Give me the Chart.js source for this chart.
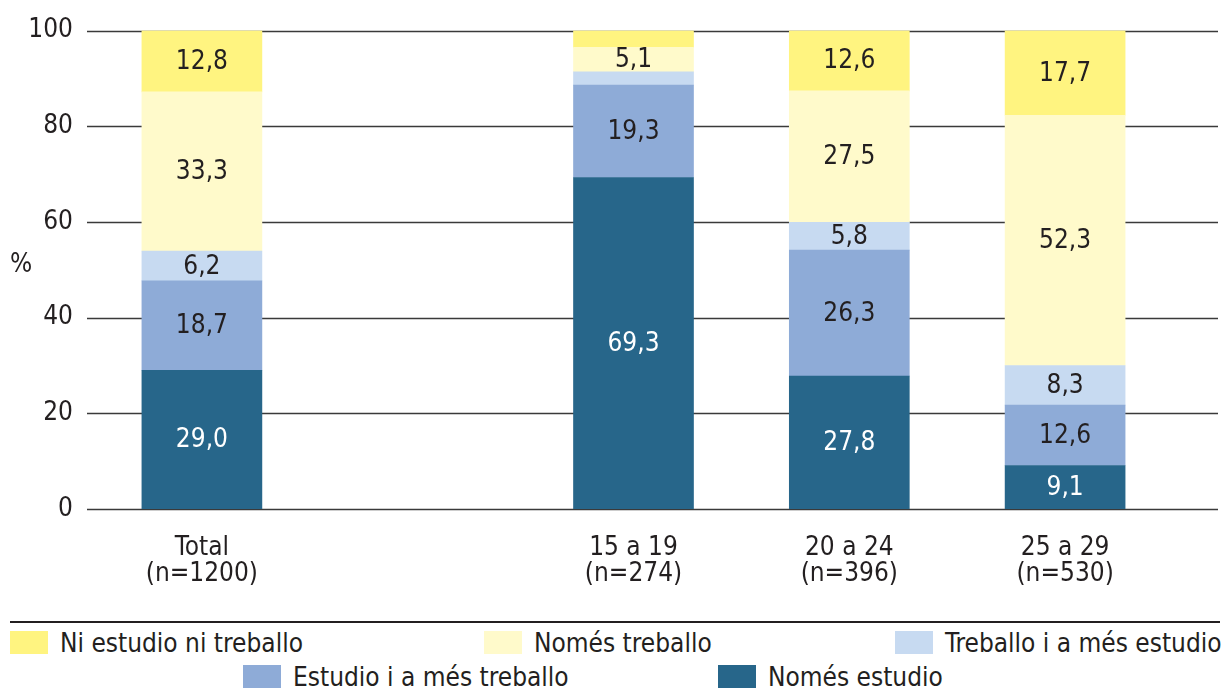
<!DOCTYPE html>
<html lang="ca">
<head>
    <meta charset="UTF-8">
    <title>Situació d'estudi i treball per edat</title>
    <style>
        body { margin: 0; background: #fff; }
        .wrap {
            position: relative;
            width: 1224px;
            height: 693px;
            overflow: hidden;
            font-family: 'Liberation Sans Narrow', 'DejaVu Sans Condensed', sans-serif;
            color: #231f20;
        }
        .wrap canvas { position: absolute; left: 0; top: -6px; }
        .rule {
            position: absolute;
            left: 10px;
            top: 621px;
            width: 1210px;
            height: 2px;
            background: #231f20;
        }
        .item {
            position: absolute;
            height: 23px;
            display: flex;
            align-items: center;
            font-size: 26px;
            white-space: nowrap;
        }
        .item span.sw {
            display: inline-block;
            width: 38px;
            height: 23px;
            margin-right: 12px;
        }
    </style>
</head>
<body>
    <div class="wrap" id="wrap">
        <canvas id="chart" width="1224" height="618"></canvas>
        <div class="rule"></div>
    </div>

    <script src="https://cdn.jsdelivr.net/npm/chart.js"></script>
    <script>
        // categories (the empty slot is the gap between Total and the age groups)
        const categories = [['Total', '(n=1200)'], '', ['15 a 19', '(n=274)'], ['20 a 24', '(n=396)'], ['25 a 29', '(n=530)']];

        // series, bottom to top
        const nomesEstudio    = [29.0, null, 69.3, 27.8, 9.1];
        const estudioIMes     = [18.7, null, 19.3, 26.3, 12.6];
        const treballoIMes    = [6.2, null, 2.8, 5.8, 8.3];
        const nomesTreballo   = [33.3, null, 5.1, 27.5, 52.3];
        const niEstudioNiTreb = [12.8, null, 3.5, 12.6, 17.7];

        const yTicks = [0, 20, 40, 60, 80, 100];

        const FONT = "'Liberation Sans Narrow', 'DejaVu Sans Condensed', sans-serif";
        const TEXT = '#231f20';

        const series = [
            { label: 'Només estudio', data: nomesEstudio, color: '#27668a', text: '#ffffff' },
            { label: 'Estudio i a més treballo', data: estudioIMes, color: '#8eabd7', text: TEXT },
            { label: 'Treballo i a més estudio', data: treballoIMes, color: '#c7daf1', text: TEXT },
            { label: 'Només treballo', data: nomesTreballo, color: '#fffacb', text: TEXT },
            { label: 'Ni estudio ni treballo', data: niEstudioNiTreb, color: '#fff480', text: TEXT }
        ];

        // grid lines run wider than the category area
        const gridPlugin = {
            id: 'wideGrid',
            beforeDatasetsDraw(chart) {
                const ctx = chart.ctx;
                const y = chart.scales.y;
                ctx.save();
                ctx.strokeStyle = '#3a3a3a';
                ctx.lineWidth = 1.5;
                yTicks.forEach(v => {
                    const py = Math.round(y.getPixelForValue(v)) + 0.5;
                    ctx.beginPath();
                    ctx.moveTo(87, py);
                    ctx.lineTo(1218, py);
                    ctx.stroke();
                });
                // "%" unit label
                ctx.fillStyle = TEXT;
                ctx.font = '26px ' + FONT;
                ctx.textAlign = 'left';
                ctx.textBaseline = 'middle';
                ctx.fillText('%', 10, y.getPixelForValue(51));
                ctx.restore();
            }
        };

        // values inside the segments
        const valuePlugin = {
            id: 'values',
            afterDatasetsDraw(chart) {
                const ctx = chart.ctx;
                ctx.save();
                ctx.font = '26px ' + FONT;
                ctx.textAlign = 'center';
                ctx.textBaseline = 'middle';
                chart.data.datasets.forEach((ds, i) => {
                    chart.getDatasetMeta(i).data.forEach((bar, j) => {
                        const v = ds.data[j];
                        if (v == null || v < 5) return;
                        ctx.fillStyle = series[i].text;
                        ctx.fillText(v.toFixed(1).replace('.', ','), bar.x, (bar.y + bar.base) / 2 + 1);
                    });
                });
                ctx.restore();
            }
        };

        new Chart(document.getElementById('chart'), {
            type: 'bar',
            data: {
                labels: categories,
                datasets: series.map(s => ({
                    label: s.label,
                    data: s.data,
                    backgroundColor: s.color,
                    borderWidth: 0,
                    barThickness: 120
                }))
            },
            options: {
                responsive: false,
                animation: false,
                layout: { padding: { left: 0, right: 51, top: 25, bottom: 0 } },
                plugins: {
                    legend: { display: false },
                    tooltip: { enabled: false }
                },
                scales: {
                    x: {
                        stacked: true,
                        grid: { display: false },
                        border: { display: false },
                        ticks: {
                            color: TEXT,
                            padding: 18,
                            font: { family: FONT, size: 26, lineHeight: 1.0 },
                            maxRotation: 0
                        },
                        afterFit(s) { s.height = 103; }
                    },
                    y: {
                        stacked: true,
                        min: 0,
                        max: 100,
                        grid: { display: false, drawTicks: false },
                        border: { display: false },
                        afterBuildTicks(s) { s.ticks = yTicks.map(v => ({ value: v })); },
                        ticks: {
                            color: TEXT,
                            padding: 21,
                            font: { family: FONT, size: 26 }
                        },
                        afterFit(s) { s.width = 94; }
                    }
                }
            },
            plugins: [gridPlugin, valuePlugin]
        });

        // legend (HTML), built from the series
        const legendPos = {
            'Ni estudio ni treballo': [10, 631],
            'Només treballo': [484, 631],
            'Treballo i a més estudio': [895, 631],
            'Estudio i a més treballo': [243, 665],
            'Només estudio': [718, 665]
        };
        const wrap = document.getElementById('wrap');
        series.slice().reverse().forEach(s => {
            const el = document.createElement('div');
            el.className = 'item';
            el.style.left = legendPos[s.label][0] + 'px';
            el.style.top = legendPos[s.label][1] + 'px';
            const sw = document.createElement('span');
            sw.className = 'sw';
            sw.style.background = s.color;
            el.appendChild(sw);
            el.appendChild(document.createTextNode(s.label));
            wrap.appendChild(el);
        });
    </script>
</body>
</html>
